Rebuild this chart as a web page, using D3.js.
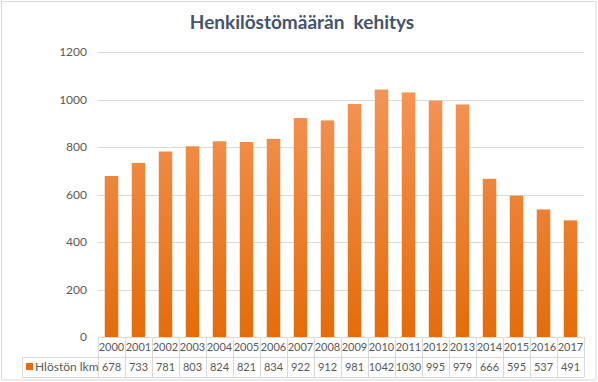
<!DOCTYPE html>
<html>
<head>
<meta charset="utf-8">
<script src="https://cdn.jsdelivr.net/npm/d3@7"></script>
<style>
  body { margin: 0; background: #fff; }
  svg { display: block; font-family: Lato, "Open Sans", "Liberation Sans", sans-serif; }
</style>
</head>
<body>
<div id="chart"></div>
<script>
// Data
const years = ["2000", "2001", "2002", "2003", "2004", "2005", "2006", "2007", "2008",
    "2009", "2010", "2011", "2012", "2013", "2014", "2015", "2016", "2017"];
const staff = [678, 733, 781, 803, 824, 821, 834, 922, 912,
    981, 1042, 1030, 995, 979, 666, 595, 537, 491];
const yTicks = [0, 200, 400, 600, 800, 1000, 1200];
const seriesName = "Hlöstön lkm";
const title = "Henkilöstömäärän  kehitys";

const W = 598, H = 382;
const plot = { left: 98, right: 584, top: 52, bottom: 337 };
const rowH = 20;

const svg = d3.select("#chart").append("svg")
    .attr("width", W)
    .attr("height", H);

// outer frame
svg.append("rect")
    .attr("x", 1.5).attr("y", 1.5)
    .attr("width", W - 3.5).attr("height", H - 3.5)
    .attr("fill", "#fff")
    .attr("stroke", "#d9d9d9");

const defs = svg.append("defs");
const grad = defs.append("linearGradient")
    .attr("id", "barGrad")
    .attr("gradientUnits", "userSpaceOnUse")
    .attr("x1", 0).attr("y1", plot.top).attr("x2", 0).attr("y2", plot.bottom);
grad.append("stop").attr("offset", "0%").attr("stop-color", "#f79a62");
grad.append("stop").attr("offset", "100%").attr("stop-color", "#e46c0a");

const x = d3.scaleBand()
    .domain(years)
    .range([plot.left, plot.right])
    .paddingInner(0.5)
    .paddingOuter(0.25);

const xCol = d3.scaleBand()
    .domain(years)
    .range([plot.left, plot.right]);

const y = d3.scaleLinear()
    .domain([0, 1200])
    .range([plot.bottom, plot.top]);

// title
svg.append("text")
    .attr("x", 302).attr("y", 29)
    .attr("text-anchor", "middle")
    .attr("font-size", 19)
    .attr("font-weight", "bold")
    .attr("fill", "#44546a")
    .style("white-space", "pre")
    .text(title);

// gridlines
svg.append("g")
    .selectAll("line")
    .data(yTicks.filter(d => d > 0))
    .join("line")
    .attr("x1", plot.left).attr("x2", plot.right)
    .attr("y1", d => Math.round(y(d)) + 0.5)
    .attr("y2", d => Math.round(y(d)) + 0.5)
    .attr("stroke", "#d9d9d9");

// y axis labels
const yAxis = svg.append("g")
    .attr("transform", `translate(${plot.left - 11},0)`)
    .call(d3.axisLeft(y).tickValues(yTicks).tickFormat(d3.format("d")).tickSize(0).tickPadding(0));
yAxis.select(".domain").remove();
yAxis.selectAll("text")
    .attr("font-size", 12)
    .attr("font-family", "Lato, sans-serif")
    .attr("fill", "#595959");

// bars
svg.append("g")
    .selectAll("rect")
    .data(staff)
    .join("rect")
    .attr("x", (d, i) => x(years[i]))
    .attr("y", d => y(d))
    .attr("width", x.bandwidth())
    .attr("height", d => y(0) - y(d))
    .attr("fill", "url(#barGrad)");

// data table
const table = svg.append("g").attr("stroke", "#d9d9d9").attr("fill", "none");
const legendLeft = 22;
const b = plot.bottom;
// horizontal lines
table.append("line")
    .attr("x1", plot.left).attr("x2", plot.right)
    .attr("y1", b + 0.5).attr("y2", b + 0.5);
table.append("line")
    .attr("x1", legendLeft).attr("x2", plot.right)
    .attr("y1", b + rowH + 0.5).attr("y2", b + rowH + 0.5);
table.append("line")
    .attr("x1", legendLeft).attr("x2", plot.right)
    .attr("y1", b + 2 * rowH + 0.5).attr("y2", b + 2 * rowH + 0.5);
// vertical lines
table.selectAll("line.v")
    .data(years.concat(["end"]))
    .join("line")
    .attr("class", "v")
    .attr("x1", d => Math.round(d === "end" ? plot.right : xCol(d)) + 0.5)
    .attr("x2", d => Math.round(d === "end" ? plot.right : xCol(d)) + 0.5)
    .attr("y1", b)
    .attr("y2", b + 2 * rowH);
table.append("line")
    .attr("x1", legendLeft + 0.5).attr("x2", legendLeft + 0.5)
    .attr("y1", b + rowH).attr("y2", b + 2 * rowH);

const cellText = svg.append("g")
    .attr("font-size", 11)
    .attr("fill", "#595959")
    .attr("text-anchor", "middle");

cellText.selectAll("text.yr")
    .data(years)
    .join("text")
    .attr("class", "yr")
    .attr("x", d => xCol(d) + xCol.bandwidth() / 2)
    .attr("y", b + 14)
    .text(d => d);

cellText.selectAll("text.val")
    .data(staff)
    .join("text")
    .attr("class", "val")
    .attr("x", (d, i) => xCol(years[i]) + xCol.bandwidth() / 2)
    .attr("y", b + rowH + 14)
    .text(d => d);

// legend key
svg.append("rect")
    .attr("x", legendLeft + 4).attr("y", b + rowH + 6)
    .attr("width", 7).attr("height", 7)
    .attr("fill", "#e46c0a");
svg.append("text")
    .attr("x", legendLeft + 13).attr("y", b + rowH + 14)
    .attr("font-size", 12)
    .attr("fill", "#595959")
    .text(seriesName);
</script>
</body>
</html>
